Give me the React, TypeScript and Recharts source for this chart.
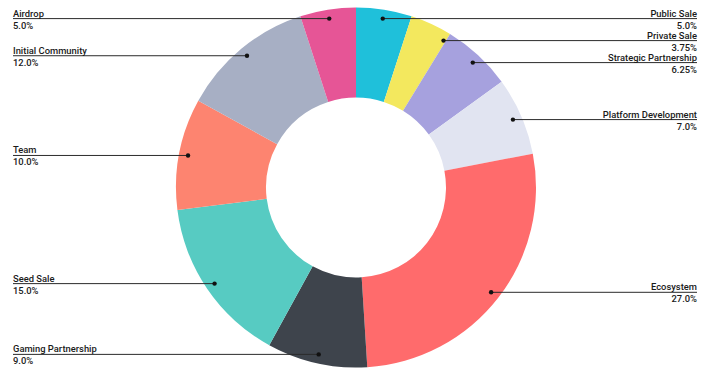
import React from 'react';
import { PieChart, Pie, Cell } from 'recharts';

const categories = [
  'Public Sale',
  'Private Sale',
  'Strategic Partnership',
  'Platform Development',
  'Ecosystem',
  'Gaming Partnership',
  'Seed Sale',
  'Team',
  'Initial Community',
  'Airdrop',
];
const shares = [5, 3.75, 6.25, 7, 27, 9, 15, 10, 12, 5];
const colors = [
  '#1FC0DA',
  '#F3E85E',
  '#A6A1DE',
  '#E1E4F1',
  '#FF6B6C',
  '#3E444C',
  '#57CBC2',
  '#FD8470',
  '#A7AFC4',
  '#E65596',
];

const data = categories.map((name, i) => ({ name, value: shares[i] }));

const CX = 356;
const CY = 187.5;
const OUTER = 180;
const DOT_R = 171;
const MIN_GAP = 22;
const RADIAN = Math.PI / 180;

// vertical position of each label line, pushed apart where slices are narrow
const total = shares.reduce((a, b) => a + b, 0);
const lineYs: number[] = (() => {
  let acc = 0;
  const ys = shares.map((v) => {
    const mid = 90 - ((acc + v / 2) / total) * 360;
    acc += v;
    return CY - DOT_R * Math.sin(mid * RADIAN);
  });
  // right-hand labels run downward in slice order
  for (let i = 1; i <= 4; i++) {
    if (ys[i] < ys[i - 1] + MIN_GAP) ys[i] = ys[i - 1] + MIN_GAP;
  }
  return ys;
})();

const fmt = (v: number) => (Number.isInteger(v) ? v.toFixed(1) : String(v)) + '%';

const renderLabel = ({ cx, cy, midAngle, name, value, index }: any) => {
  const right = Math.cos(-midAngle * RADIAN) > 0;
  const y = lineYs[index];
  const dy = y - cy;
  const x = cx + (right ? 1 : -1) * Math.sqrt(Math.max(DOT_R * DOT_R - dy * dy, 0));
  const endX = right ? 697 : 13;
  const anchor = right ? 'end' : 'start';
  const font = { fontSize: 9.4, fontWeight: 500, fill: '#1a1a1a', fontFamily: 'Roboto, sans-serif' };
  return (
    <g>
      <line x1={x} y1={y} x2={endX} y2={y} stroke="#2b2b2b" strokeWidth={1} />
      <circle cx={x} cy={y} r={2.2} fill="#111" />
      <text x={endX} y={y - 2} textAnchor={anchor} {...font}>
        {name}
      </text>
      <text x={endX} y={y + 10} textAnchor={anchor} {...font}>
        {fmt(value)}
      </text>
    </g>
  );
};

export default function App() {
  return (
    <div style={{ position: 'absolute', left: 0, top: 0, background: '#fff' }}>
      <PieChart width={716} height={371} margin={{ top: 0, right: 0, bottom: 0, left: 0 }}>
        <Pie
          data={data}
          dataKey="value"
          nameKey="name"
          cx={CX}
          cy={CY}
          innerRadius={90}
          outerRadius={OUTER}
          startAngle={90}
          endAngle={-270}
          stroke="none"
          label={renderLabel}
          labelLine={false}
          isAnimationActive={false}
        >
          {data.map((d, i) => (
            <Cell key={d.name} fill={colors[i]} />
          ))}
        </Pie>
      </PieChart>
    </div>
  );
}
